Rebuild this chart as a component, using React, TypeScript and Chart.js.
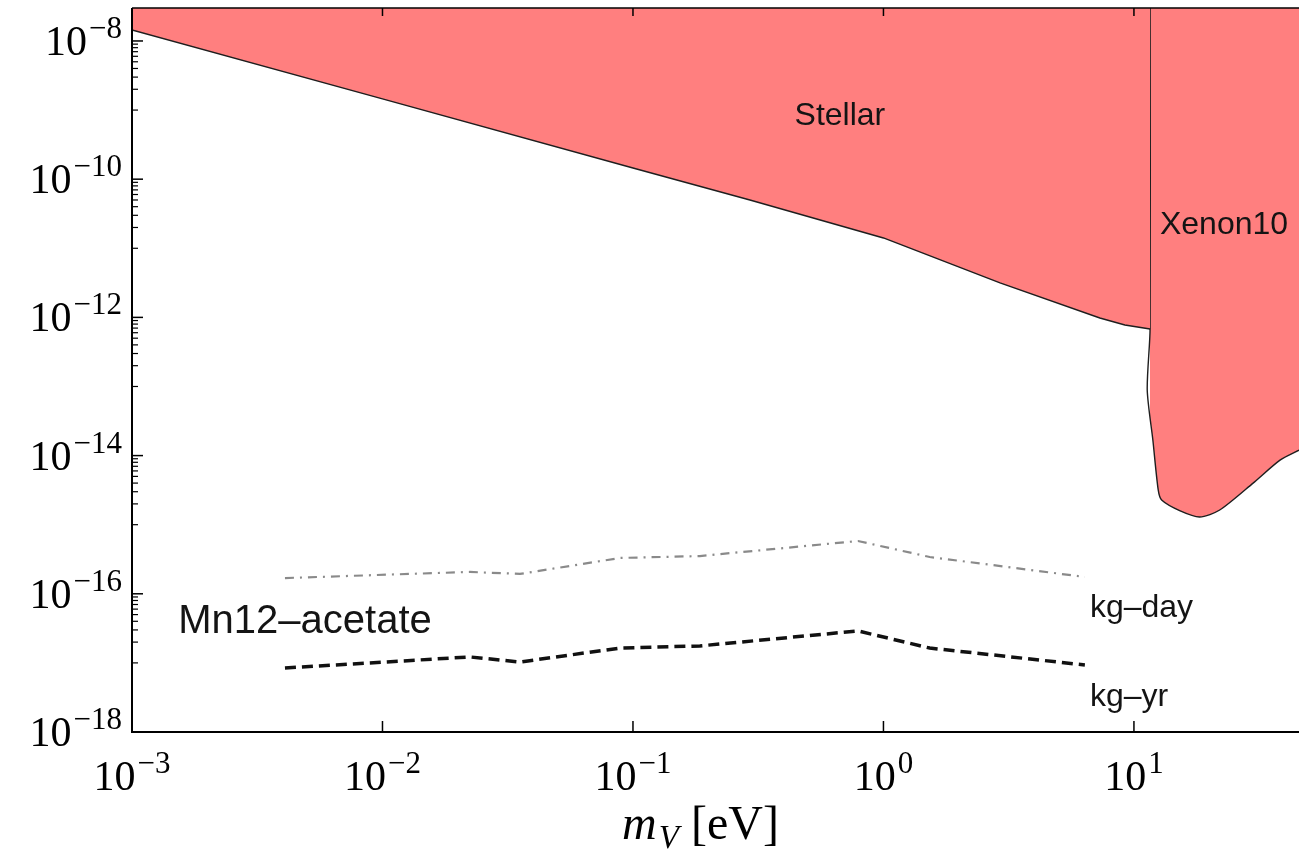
import React, { useEffect, useRef } from "react";
import { Chart, registerables } from "chart.js";

Chart.register(...registerables);

// Axis ranges (log scales)
const X_MIN = 1e-3;
const X_MAX = 45.6;
const Y_MIN = 1e-18;
const Y_MAX = 3.0e-8;

// Stellar exclusion boundary
const stellarMass = [1e-3, 1e-2, 0.1, 0.293, 1.0, 2.92, 7.31, 9.2, 11.6];
const stellarCoupling = [1.44e-8, 1.45e-9, 1.45e-10, 5.0e-11, 1.41e-11, 3.15e-12, 9.8e-13, 7.76e-13, 6.8e-13];

// Xenon10 exclusion boundary
const xenonMass = [11.6, 11.6, 11.3, 11.9, 12.5, 12.9, 15.3, 18.3, 22.0, 29.9, 38.3, 45.6];
const xenonCoupling = [3.0e-8, 6.8e-13, 8.9e-14, 1.68e-14, 3.18e-15, 2.27e-15, 1.58e-15, 1.29e-15, 1.63e-15, 4.0e-15, 8.6e-15, 1.2e-14];

// Mn12-acetate projected sensitivities
const mnMass = [0.00408, 0.0223, 0.0354, 0.0887, 0.185, 0.791, 1.53, 6.37];
const kgDay = [1.69e-16, 2.07e-16, 1.94e-16, 3.3e-16, 3.52e-16, 5.81e-16, 3.41e-16, 1.75e-16];
const kgYr = [8.43e-18, 1.22e-17, 1.03e-17, 1.64e-17, 1.76e-17, 2.9e-17, 1.64e-17, 9.33e-18];

// Tick labels (powers of ten)
const xTickExponents = [-3, -2, -1, 0, 1];
const yTickExponents = [-8, -10, -12, -14, -16, -18];

const SERIF = '"Liberation Serif", "Times New Roman", serif';
const SANS = '"Liberation Sans", Arial, sans-serif';

function drawPow(ctx: CanvasRenderingContext2D, exp: number, anchorX: number, baseline: number, align: "right" | "center") {
  const baseFont = `42px ${SERIF}`;
  const supFont = `31px ${SERIF}`;
  ctx.font = baseFont;
  const bw = ctx.measureText("10").width;
  const expStr = exp < 0 ? "\u2212" + Math.abs(exp) : String(exp);
  ctx.font = supFont;
  const ew = ctx.measureText(expStr).width;
  const gap = 2;
  const total = bw + gap + ew;
  const left = align === "right" ? anchorX - total : anchorX - total / 2;
  ctx.textAlign = "left";
  ctx.textBaseline = "alphabetic";
  ctx.font = baseFont;
  ctx.fillText("10", left, baseline);
  ctx.font = supFont;
  ctx.fillText(expStr, left + bw + gap, baseline - 17);
}

const framePlugin = {
  id: "mathematicaFrame",
  afterDatasetsDraw(chart: any) {
    const { ctx, chartArea: a, scales } = chart;
    const xs = scales.x;
    const ys = scales.y;
    ctx.save();
    ctx.fillStyle = "#000";
    ctx.strokeStyle = "#000";

    // frame
    ctx.lineWidth = 2;
    ctx.beginPath();
    ctx.moveTo(a.left, a.top);
    ctx.lineTo(a.left, a.bottom);
    ctx.lineTo(a.right, a.bottom);
    ctx.stroke();
    ctx.lineWidth = 1.5;
    ctx.beginPath();
    ctx.moveTo(a.left, a.top);
    ctx.lineTo(a.right, a.top);
    ctx.stroke();

    // x ticks (bottom and top)
    ctx.lineWidth = 1.5;
    xTickExponents.forEach((e) => {
      const px = xs.getPixelForValue(Math.pow(10, e));
      ctx.beginPath();
      ctx.moveTo(px, a.bottom);
      ctx.lineTo(px, a.bottom - 11);
      ctx.moveTo(px, a.top);
      ctx.lineTo(px, a.top + 8);
      ctx.stroke();
      drawPow(ctx, e, px, a.bottom + 58, "center");
    });

    // y ticks (major + minor in the decade below)
    yTickExponents.forEach((e) => {
      const py = ys.getPixelForValue(Math.pow(10, e));
      ctx.lineWidth = 1.5;
      ctx.beginPath();
      ctx.moveTo(a.left, py);
      ctx.lineTo(a.left + 11, py);
      ctx.stroke();
      if (e > -18) {
        ctx.lineWidth = 1.2;
        for (let k = 1; k <= 9; k++) {
          const my = ys.getPixelForValue(k * Math.pow(10, e - 1));
          ctx.beginPath();
          ctx.moveTo(a.left, my);
          ctx.lineTo(a.left + 6, my);
          ctx.stroke();
        }
      }
      drawPow(ctx, e, a.left - 10, py + 14, "right");
    });

    // x-axis title: m_V [eV]
    const tBase = a.bottom + 107;
    ctx.textBaseline = "alphabetic";
    ctx.textAlign = "left";
    const fM = `italic 48px ${SERIF}`;
    const fSub = `italic 33px ${SERIF}`;
    const fRest = `48px ${SERIF}`;
    ctx.font = fM;
    const wm = ctx.measureText("m").width;
    ctx.font = fSub;
    const wv = ctx.measureText("V").width;
    ctx.font = fRest;
    const wr = ctx.measureText(" [eV]").width;
    const tw = wm + 2 + wv + wr;
    const cx = (xs.getPixelForValue(X_MIN) + xs.getPixelForValue(X_MAX)) / 2 - 15;
    let tx = cx - tw / 2;
    ctx.font = fM;
    ctx.fillText("m", tx, tBase);
    tx += wm + 2;
    ctx.font = fSub;
    ctx.fillText("V", tx, tBase + 9);
    tx += wv;
    ctx.font = fRest;
    ctx.fillText(" [eV]", tx, tBase);

    // region / curve annotations
    ctx.fillStyle = "#141414";
    ctx.textBaseline = "middle";
    ctx.font = `32px ${SANS}`;
    ctx.textAlign = "center";
    ctx.fillText("Stellar", xs.getPixelForValue(0.67), ys.getPixelForValue(8.2e-10));
    ctx.textAlign = "left";
    ctx.fillText("Xenon10", xs.getPixelForValue(12.7), ys.getPixelForValue(2.17e-11));
    ctx.fillText("kg\u2013day", xs.getPixelForValue(6.67), ys.getPixelForValue(6.2e-17));
    ctx.fillText("kg\u2013yr", xs.getPixelForValue(6.67), ys.getPixelForValue(3.2e-18));
    ctx.font = `40px ${SANS}`;
    ctx.fillText("Mn12\u2013acetate", xs.getPixelForValue(1.53e-3), ys.getPixelForValue(3.9e-17));
    ctx.restore();
  },
};

const pts = (xs: number[], ys: number[]) => xs.map((x, i) => ({ x, y: ys[i] }));

export default function App() {
  const ref = useRef<HTMLCanvasElement | null>(null);
  useEffect(() => {
    document.body.style.margin = "0";
    if (!ref.current) return;
    const chart = new Chart(ref.current, {
      type: "line",
      data: {
        datasets: [
          {
            label: "Stellar",
            data: pts(stellarMass, stellarCoupling),
            borderColor: "#1e1e1e",
            borderWidth: 1.4,
            backgroundColor: "rgb(255,127,127)",
            fill: "end",
            pointRadius: 0,
            tension: 0,
          },
          {
            label: "Xenon10",
            data: pts(xenonMass, xenonCoupling),
            borderColor: "#1e1e1e",
            borderWidth: 1.4,
            backgroundColor: "rgb(255,127,127)",
            fill: "end",
            pointRadius: 0,
            tension: 0.25,
          },
          {
            label: "kg-day",
            data: pts(mnMass, kgDay),
            borderColor: "#8a8a8a",
            borderWidth: 2.2,
            borderDash: [9, 6, 2, 6],
            fill: false,
            pointRadius: 0,
            tension: 0,
          },
          {
            label: "kg-yr",
            data: pts(mnMass, kgYr),
            borderColor: "#111",
            borderWidth: 3.5,
            borderDash: [11, 6],
            fill: false,
            pointRadius: 0,
            tension: 0,
          },
        ],
      },
      options: {
        responsive: false,
        animation: false,
        layout: { padding: { left: 132, top: 8, right: 0, bottom: 124 } },
        plugins: { legend: { display: false }, tooltip: { enabled: false } },
        scales: {
          x: { type: "logarithmic", min: X_MIN, max: X_MAX, display: false },
          y: { type: "logarithmic", min: Y_MIN, max: Y_MAX, display: false },
        },
      },
      plugins: [framePlugin],
    });
    return () => chart.destroy();
  }, []);
  return <canvas ref={ref} width={1299} height={856} style={{ display: "block" }} />;
}
